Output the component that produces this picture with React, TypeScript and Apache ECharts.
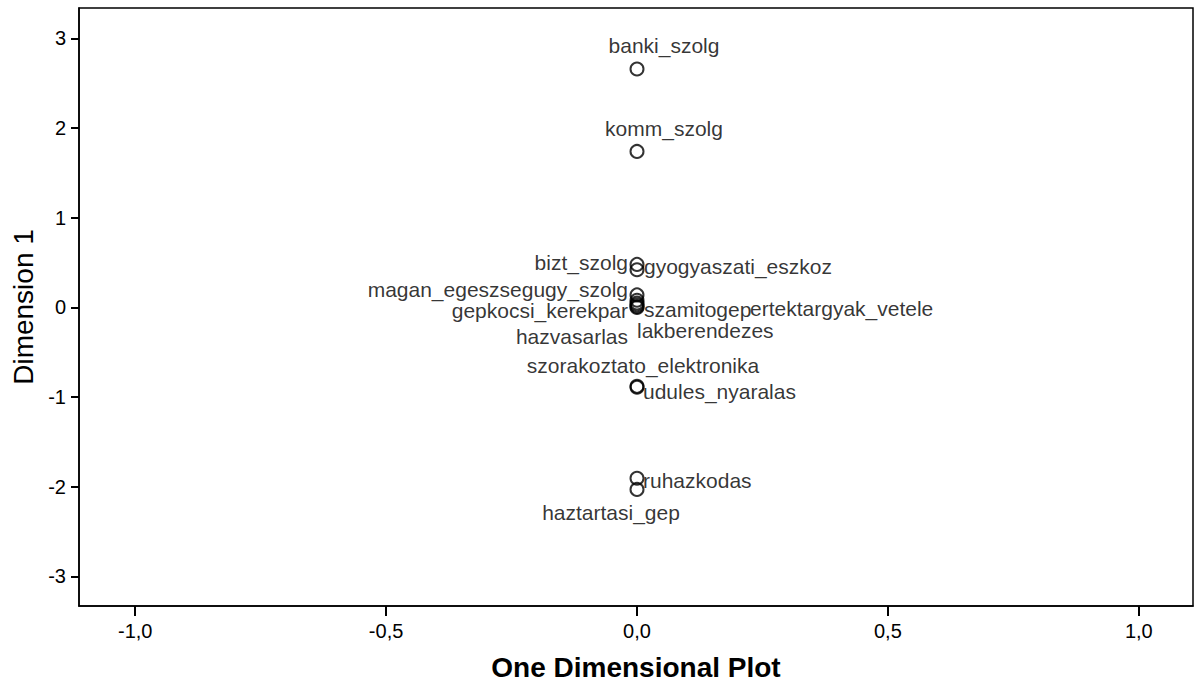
import React, { useEffect, useRef } from "react";
import * as echarts from "echarts";

const categories = [
  "banki_szolg",
  "komm_szolg",
  "bizt_szolg",
  "gyogyaszati_eszkoz",
  "magan_egeszsegugy_szolg",
  "szamitogep",
  "lakberendezes",
  "ertektargyak_vetele",
  "gepkocsi_kerekpar",
  "hazvasarlas",
  "szorakoztato_elektronika",
  "udules_nyaralas",
  "ruhazkodas",
  "haztartasi_gep",
];

const dimension1 = [2.66, 1.74, 0.48, 0.42, 0.14, 0.08, 0.05, 0.03, 0.01, 0.0, -0.88, -0.89, -1.905, -2.03];

const xTicks = [-1.0, -0.5, 0.0, 0.5, 1.0];
const yTicks = [-3, -2, -1, 0, 1, 2, 3];

// label placement: [align, dx, dy] relative to the point centre
const labelPlacement: [string, number, number][] = [
  ["center", 27, -23],
  ["center", 27, -22.5],
  ["right", -9, -1.5],
  ["left", 7, -3],
  ["right", -9, -5],
  ["left", 7, 9],
  ["left", 0, 28],
  ["left", 113, 4],
  ["right", -9, 4],
  ["right", -9, 29.5],
  ["center", 6, -21],
  ["left", 6, 4],
  ["left", 6, 2],
  ["center", -26, 23.5],
];

const FONT = "'Liberation Sans', Arial, sans-serif";

export default function App() {
  const ref = useRef<HTMLDivElement>(null);
  useEffect(() => {
    if (!ref.current) return;
    const chart = echarts.init(ref.current, undefined, { renderer: "svg" });
    const data = categories.map((name, i) => ({ name, value: [0, dimension1[i]] }));
    chart.setOption({
      animation: false,
      backgroundColor: "#ffffff",
      textStyle: { fontFamily: FONT },
      grid: {
        left: 79,
        right: 1,
        top: 8,
        bottom: 83,
        show: true,
        borderColor: "#000",
        borderWidth: 1.5,
        backgroundColor: "#ffffff",
      },
      xAxis: {
        type: "value",
        min: -1.112,
        max: 1.108,
        name: "One Dimensional Plot",
        nameLocation: "middle",
        nameGap: 47,
        nameTextStyle: { fontSize: 28, fontWeight: "bold", color: "#000", fontFamily: FONT },
        axisLine: { show: true, onZero: false, lineStyle: { color: "#000", width: 1.5 } },
        axisTick: { show: true, customValues: xTicks, length: 10, lineStyle: { color: "#000", width: 2 } },
        axisLabel: {
          customValues: xTicks,
          margin: 15,
          fontSize: 20,
          color: "#000",
          fontFamily: FONT,
          formatter: (v: number) => v.toFixed(1).replace(".", ","),
        },
        splitLine: { show: false },
      },
      yAxis: {
        type: "value",
        min: -3.33,
        max: 3.34,
        name: "Dimension 1",
        nameLocation: "middle",
        nameRotate: 90,
        nameGap: 39,
        nameTextStyle: { fontSize: 28, color: "#000", fontFamily: FONT },
        axisLine: { show: true, onZero: false, lineStyle: { color: "#000", width: 1.5 } },
        axisTick: { show: true, customValues: yTicks, length: 8, lineStyle: { color: "#000", width: 2 } },
        axisLabel: {
          customValues: yTicks,
          margin: 13,
          fontSize: 20,
          color: "#000",
          fontFamily: FONT,
          formatter: (v: number) => String(v),
        },
        splitLine: { show: false },
      },
      series: [
        {
          type: "scatter",
          symbol: "circle",
          symbolSize: 13,
          itemStyle: { color: "rgba(0,0,0,0)", borderColor: "#000", borderWidth: 2 },
          label: {
            show: true,
            position: "inside",
            verticalAlign: "middle",
            formatter: "{b}",
            fontSize: 21,
            color: "#000",
            fontFamily: FONT,
          },
          labelLayout: (params: any) => {
            const [align, dx, dy] = labelPlacement[params.dataIndex];
            return { align, verticalAlign: "middle", dx, dy, hideOverlap: false };
          },
          emphasis: { disabled: true },
          data,
        },
      ],
    });
    return () => chart.dispose();
  }, []);
  return (
    <div
      ref={ref}
      style={{ position: "fixed", left: 0, top: 0, width: 1194, height: 689 }}
    />
  );
}
